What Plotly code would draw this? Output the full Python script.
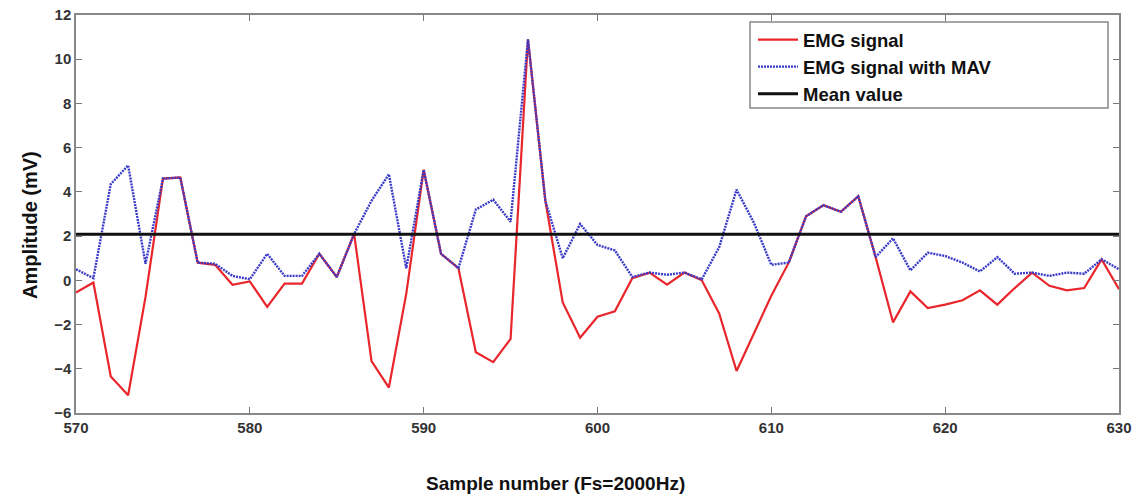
import plotly.graph_objects as go

samples = list(range(570, 631))
emg = [-0.55, -0.1, -4.35, -5.2, -0.75, 4.6, 4.65, 0.8, 0.7, -0.2,
       -0.05, -1.2, -0.15, -0.15, 1.2, 0.15, 2.1, -3.65, -4.85, -0.6,
       5.0, 1.2, 0.55, -3.25, -3.7, -2.65, 10.9, 3.6, -1.0, -2.6,
       -1.65, -1.4, 0.1, 0.35, -0.2, 0.35, 0.0, -1.5, -4.1, -2.4,
       -0.7, 0.8, 2.9, 3.4, 3.1, 3.8, 1.05, -1.9, -0.5, -1.25,
       -1.1, -0.9, -0.45, -1.1, -0.35, 0.35, -0.25, -0.45, -0.35, 0.95,
       -0.4]
mav = [0.5, 0.1, 4.35, 5.2, 0.75, 4.6, 4.65, 0.8, 0.75, 0.2,
       0.05, 1.2, 0.2, 0.2, 1.2, 0.15, 2.1, 3.6, 4.8, 0.55,
       5.0, 1.2, 0.55, 3.2, 3.65, 2.65, 10.9, 3.6, 1.0, 2.55,
       1.6, 1.35, 0.15, 0.35, 0.25, 0.35, 0.05, 1.5, 4.1, 2.6,
       0.7, 0.8, 2.9, 3.4, 3.1, 3.8, 1.05, 1.9, 0.45, 1.25,
       1.1, 0.8, 0.4, 1.05, 0.3, 0.35, 0.2, 0.35, 0.3, 0.95,
       0.5]
mean_value = 2.08
x_ticks = [570, 580, 590, 600, 610, 620, 630]
y_ticks = [-6, -4, -2, 0, 2, 4, 6, 8, 10, 12]

W, H = 1145, 499
ML, MR, MT, MB = 76, 26, 15, 86
PW = W - ML - MR
PH = H - MT - MB


def px_x(p):
    return (p - ML) / PW


def px_y(p):
    return 1 - (p - MT) / PH


fig = go.Figure()
fig.add_trace(go.Scatter(x=samples, y=emg, mode="lines", name="<b>EMG signal</b>",
                         line=dict(color="#e8262c", width=2.2)))
fig.add_trace(go.Scatter(x=samples, y=mav, mode="lines", name="<b>EMG signal with MAV</b>",
                         line=dict(color="#3a3ac8", width=2.4, dash="2px,1px")))
fig.add_trace(go.Scatter(x=[samples[0], samples[-1]], y=[mean_value, mean_value],
                         mode="lines", name="<b>Mean value</b>",
                         line=dict(color="#111111", width=3)))

tickfont = dict(family="Liberation Sans, Arial, sans-serif", size=15, color="#333333",
                weight="bold")
fig.update_layout(
    width=W, height=H,
    margin=dict(l=ML, r=MR, t=MT, b=MB, autoexpand=False),
    paper_bgcolor="white", plot_bgcolor="white",
    showlegend=True,
    legend=dict(x=px_x(753), y=px_y(21), xanchor="left", yanchor="top",
                borderwidth=0, bgcolor="rgba(0,0,0,0)",
                font=dict(family="Liberation Sans, Arial, sans-serif", size=18.5, color="#111111"),
                tracegroupgap=0, itemwidth=40),
    xaxis=dict(range=[570, 630], tickvals=x_ticks, ticks="inside", ticklen=6,
               tickcolor="#777777", showgrid=False, zeroline=False,
               showline=True, linecolor="#888888", linewidth=1.5, mirror="ticks",
               tickfont=tickfont),
    yaxis=dict(range=[-6, 12], tickvals=y_ticks, ticks="inside", ticklen=6,
               tickcolor="#777777", showgrid=False, zeroline=False,
               showline=True, linecolor="#888888", linewidth=1.5, mirror="ticks",
               tickfont=tickfont),
    shapes=[dict(type="rect", xref="paper", yref="paper",
                 x0=px_x(750), x1=px_x(1108), y0=px_y(108), y1=px_y(22),
                 line=dict(color="#888888", width=1.5), fillcolor="white", layer="below")],
    annotations=[
        dict(text="<b>Sample number (Fs=2000Hz)</b>", xref="paper", yref="paper",
             x=px_x(555), y=px_y(483), xanchor="center", yanchor="middle",
             showarrow=False,
             font=dict(family="Liberation Sans, Arial, sans-serif", size=19, color="#111111")),
        dict(text="<b>Amplitude (mV)</b>", xref="paper", yref="paper",
             x=px_x(30), y=px_y(225), xanchor="center", yanchor="middle", textangle=-90,
             showarrow=False,
             font=dict(family="Liberation Sans, Arial, sans-serif", size=20, color="#111111")),
    ],
)

fig.write_html("out.html", config={"displayModeBar": False},
               post_script="document.body.style.margin='0';")
